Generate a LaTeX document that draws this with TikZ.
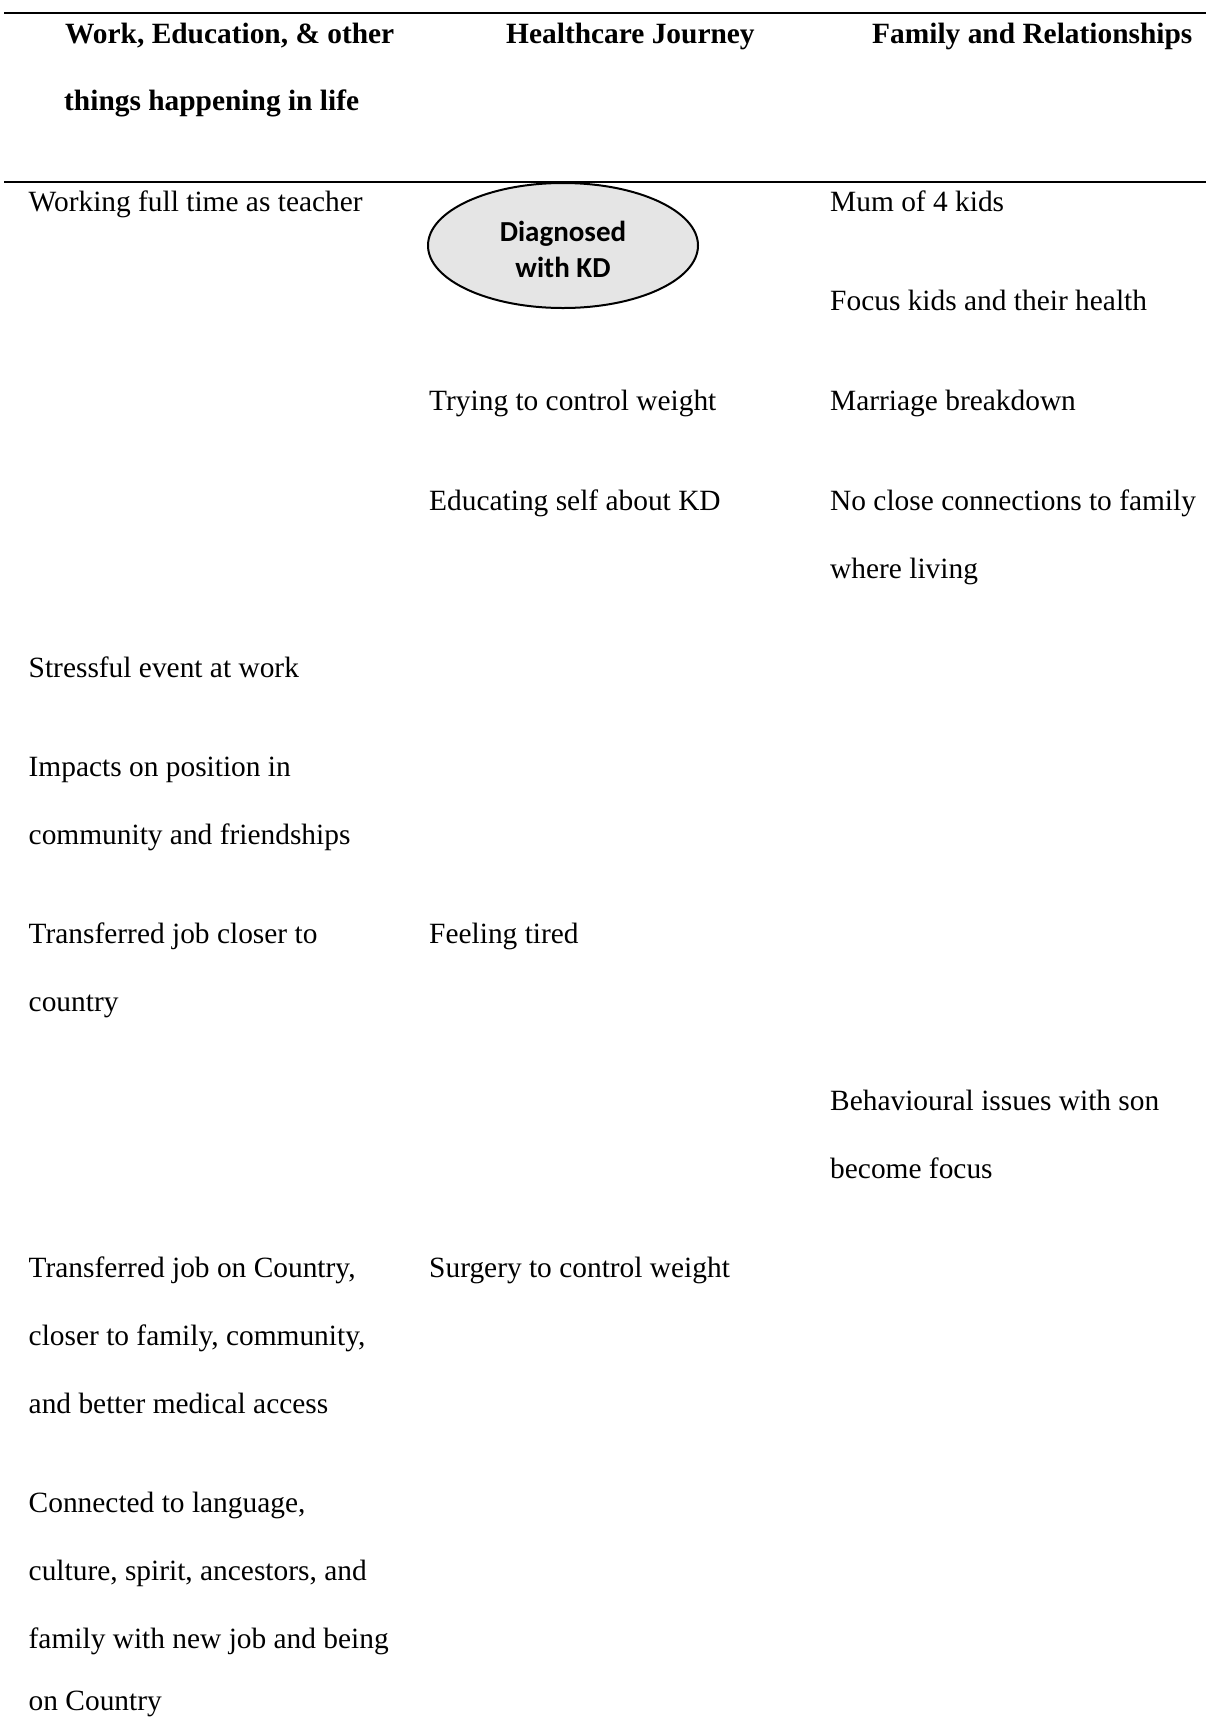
\documentclass[tikz,border=0pt]{standalone}
\usepackage{fontspec}
\setmainfont{Liberation Serif}
\newfontfamily\calib{Carlito}
\usetikzlibrary{shapes.geometric}
\tikzset{
  txt/.style={anchor=base west, inner sep=0pt, font=\fontsize{29.4}{34}\selectfont},
  hdr/.style={txt, font=\fontsize{29.4}{34}\selectfont\bfseries},
  rule/.style={line width=2pt, black},
  oval/.style={ellipse, draw=black, line width=2pt, fill=gray!20, minimum width=270pt, minimum height=125pt, inner sep=0pt},
  ovaltext/.style={inner sep=0pt, font=\calib\bfseries\fontsize{29}{36}\selectfont, align=center}
}
\begin{document}
\begin{tikzpicture}[x=1pt,y=-1pt]
\useasboundingbox (0,0) rectangle (1206,1717);
\fill[white] (0,0) rectangle (1206,1717);
% rules
\coordinate (r1a) at (4,13);  \coordinate (r1b) at (1206,13);
\coordinate (r2a) at (4,181.5); \coordinate (r2b) at (1206,181.5);
\draw[rule] (r1a) -- (r1b);
\draw[rule] (r2a) -- (r2b);
% headers
\node[hdr] (h1a) at (65,43.5) {Work, Education, \& other};
\node[hdr] (h1b) at (64,110.5) {things happening in life};
\node[hdr] (h2) at (506,43.5) {Healthcare Journey};
\node[hdr] (h3) at (872,43.5) {Family and Relationships};
% ellipse
\node[oval] (diag) at (563,245.5) {};
\node[ovaltext] (diagtxt) at ([yshift=-4pt]diag.center) {Diagnosed\\with KD};
% column 1
\node[txt] (c1a) at (28.5,211) {Working full time as teacher};
\node[txt] (c1b) at (28.5,677.5) {Stressful event at work};
\node[txt] (c1c) at (28.5,776.5) {Impacts on position in};
\node[txt] (c1d) at (28.5,844) {community and friendships};
\node[txt] (c1e) at (28.5,943.5) {Transferred job closer to};
\node[txt] (c1f) at (28.5,1011.5) {country};
\node[txt] (c1g) at (28.5,1277.5) {Transferred job on Country,};
\node[txt] (c1h) at (28.5,1345.5) {closer to family, community,};
\node[txt] (c1i) at (28.5,1413.5) {and better medical access};
\node[txt] (c1j) at (28.5,1512.5) {Connected to language,};
\node[txt] (c1k) at (28.5,1580.5) {culture, spirit, ancestors, and};
\node[txt] (c1l) at (28.5,1648.5) {family with new job and being};
\node[txt] (c1m) at (28.5,1710) {on Country};
% column 2
\node[txt] (c2a) at (429,410.5) {Trying to control weight};
\node[txt] (c2b) at (429,510) {Educating self about KD};
\node[txt] (c2c) at (429,943.5) {Feeling tired};
\node[txt] (c2d) at (429,1277.5) {Surgery to control weight};
% column 3
\node[txt] (c3a) at (830,211) {Mum of 4 kids};
\node[txt] (c3b) at (830,310.5) {Focus kids and their health};
\node[txt] (c3c) at (830,410.5) {Marriage breakdown};
\node[txt] (c3d) at (830,510) {No close connections to family};
\node[txt] (c3e) at (830,578) {where living};
\node[txt] (c3f) at (830,1110.5) {Behavioural issues with son};
\node[txt] (c3g) at (830,1178.5) {become focus};
\end{tikzpicture}
\end{document}
